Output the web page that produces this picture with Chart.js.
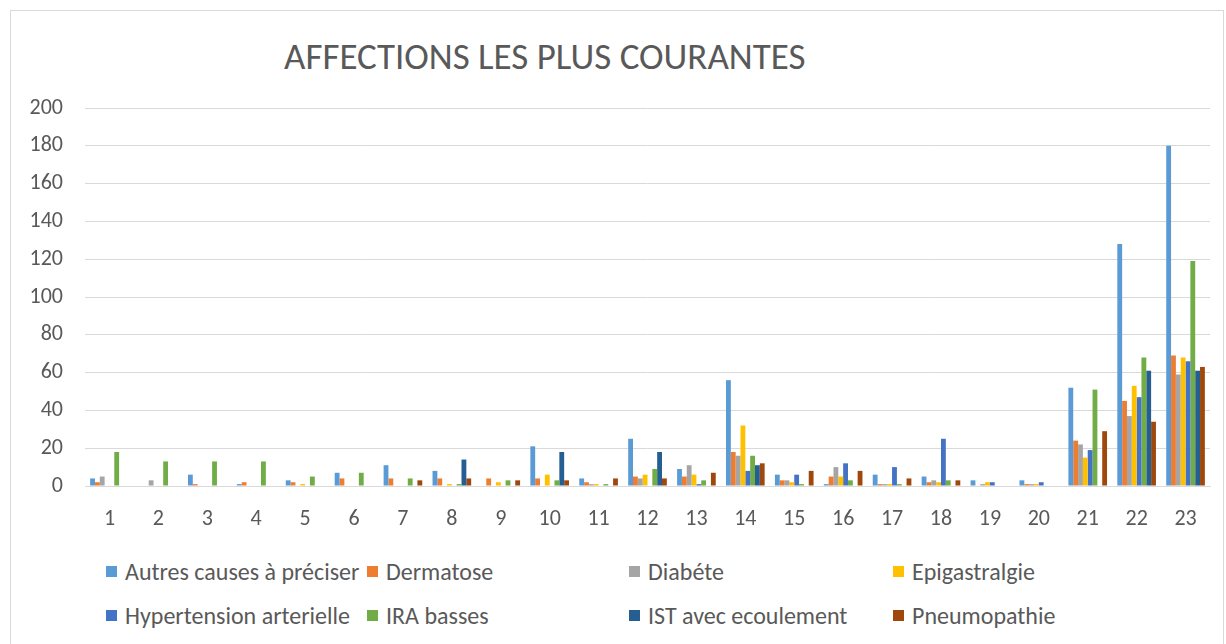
<!DOCTYPE html>
<html>
<head>
<meta charset="utf-8">
<script src="https://cdn.jsdelivr.net/npm/chart.js@4/dist/chart.umd.min.js"></script>
<style>
  body { margin: 0; background: #fff; font-family: Carlito, "Open Sans", sans-serif; }
  #frame { position: absolute; left: 10px; top: 10px; width: 1212px; height: 660px; border: 1px solid #d9d9d9; }
  #title { position: absolute; left: 284px; top: 38px; font-size: 37px; line-height: 1; color: #595959; white-space: nowrap; }
  #chartWrap { position: absolute; left: 0; top: 0; width: 1226px; height: 545px; }
  #legend { position: absolute; left: 106px; top: 558px; display: grid; grid-template-columns: 261px 262px 264px 264px; row-gap: 18px; }
  .legend-item { display: flex; align-items: center; font-size: 24px; color: #595959; white-space: nowrap; height: 26px; }
  .legend-box { width: 11px; height: 11px; margin-right: 8px; flex: none; }
</style>
</head>
<body>
<div id="frame"></div>
<div id="title">AFFECTIONS LES PLUS COURANTES</div>
<div id="chartWrap"><canvas id="chart"></canvas></div>
<div id="legend"></div>
<script>
// Categories (x axis)
const categories = ['1','2','3','4','5','6','7','8','9','10','11','12','13','14','15','16','17','18','19','20','21','22','23'];

// Series values
const autres = [4, 0, 6, 1, 3, 7, 11, 8, 0, 21, 4, 25, 9, 56, 6, 1, 6, 5, 3, 3, 52, 128, 180];
const dermatose = [2, 0, 1, 2, 2, 4, 4, 4, 4, 4, 2, 5, 5, 18, 3, 5, 1, 2, 0, 1, 24, 45, 69];
const diabete = [5, 3, 0, 0, 0, 0, 0, 0, 0, 0, 1, 4, 11, 16, 3, 10, 1, 3, 1, 1, 22, 37, 59];
const epigastralgie = [0, 0, 0, 0, 1, 0, 0, 1, 2, 6, 1, 6, 6, 32, 2, 5, 1, 2, 2, 1, 15, 53, 68];
const hypertension = [0, 0, 0, 0, 0, 0, 0, 0, 0, 0, 0, 0, 1, 8, 6, 12, 10, 25, 2, 2, 19, 47, 66];
const iraBasses = [18, 13, 13, 13, 5, 7, 4, 1, 3, 3, 1, 9, 3, 16, 1, 3, 1, 3, 0, 0, 51, 68, 119];
const istEcoulement = [0, 0, 0, 0, 0, 0, 0, 14, 0, 18, 0, 18, 0, 11, 0, 0, 0, 0, 0, 0, 0, 61, 61];
const pneumopathie = [0, 0, 0, 0, 0, 0, 3, 4, 3, 3, 4, 4, 7, 12, 8, 8, 4, 3, 0, 0, 29, 34, 63];

const seriesNames = ['Autres causes à préciser', 'Dermatose', 'Diabéte', 'Epigastralgie',
  'Hypertension arterielle', 'IRA basses', 'IST avec ecoulement', 'Pneumopathie'];
const seriesData = [autres, dermatose, diabete, epigastralgie, hypertension, iraBasses, istEcoulement, pneumopathie];
const seriesColors = ['#5B9BD5', '#ED7D31', '#A5A5A5', '#FFC000', '#4472C4', '#70AD47', '#255E91', '#9E480E'];

const fontFamily = 'Carlito, "Open Sans", sans-serif';

// Build datasets
const datasets = seriesNames.map((name, i) => ({
  label: name,
  data: seriesData[i],
  backgroundColor: seriesColors[i],
  borderWidth: 0,
  barPercentage: 1,
  categoryPercentage: 0.79
}));

new Chart(document.getElementById('chart').getContext('2d'), {
  type: 'bar',
  data: { labels: categories, datasets: datasets },
  options: {
    responsive: true,
    maintainAspectRatio: false,
    animation: false,
    layout: { padding: { top: 108, right: 16, left: 0, bottom: 0 } },
    plugins: {
      legend: { display: false },
      title: { display: false },
      tooltip: { enabled: false }
    },
    scales: {
      x: {
        grid: { display: false },
        border: { color: '#d9d9d9', width: 1 },
        ticks: { color: '#595959', font: { family: fontFamily, size: 22 }, padding: 12 },
        afterFit: s => { s.height = 59; }
      },
      y: {
        min: 0,
        max: 200,
        ticks: { stepSize: 20, color: '#595959', font: { family: fontFamily, size: 22 }, padding: 22 },
        grid: { color: '#d9d9d9', lineWidth: 1, drawTicks: false },
        border: { display: false },
        afterFit: s => { s.width = 85; }
      }
    }
  }
});

// Legend (4 fixed columns, like the original)
const legendHtml = seriesNames.map((name, i) => `
  <div class="legend-item"><span class="legend-box" style="background:${seriesColors[i]}"></span>${name}</div>
`).join('');
document.getElementById('legend').innerHTML = legendHtml;
</script>
</body>
</html>
